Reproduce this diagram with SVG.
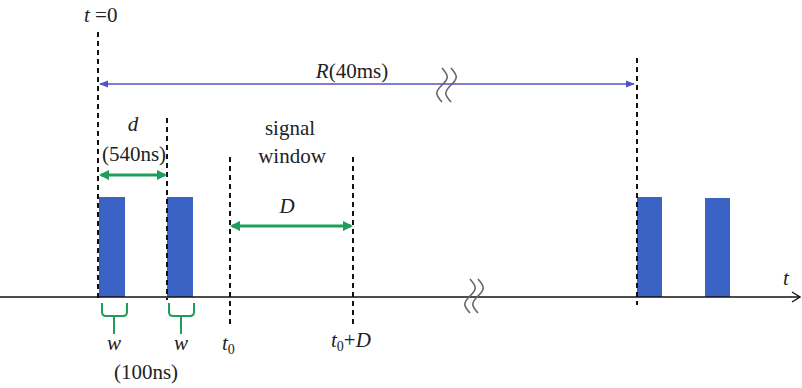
<svg xmlns="http://www.w3.org/2000/svg" width="802" height="388" viewBox="0 0 802 388">
<style>
.t{font-family:'Liberation Serif','Times New Roman',Times,'Nimbus Roman','Nimbus Roman No9 L',FreeSerif,'Noto Serif','DejaVu Serif',serif;fill:#222;font-size:21px}
.it{font-style:italic}
.dash{stroke:#111;stroke-width:2;stroke-dasharray:5 4;fill:none}
.pulse{fill:#3b63c6}
.green{stroke:#1d9e5c;stroke-width:3;fill:none}
.brace{stroke:#1d9e5c;stroke-width:2;fill:none}
.brk{stroke:#666;stroke-width:1.6;fill:none}
</style>
<defs>
<marker id="ga" viewBox="0 0 10 10" refX="8" refY="5" markerWidth="3.5" markerHeight="3.5" orient="auto-start-reverse">
<path d="M0,0 L10,5 L0,10 z" fill="#1d9e5c"/>
</marker>
<marker id="ba" viewBox="0 0 10 10" refX="9" refY="5" markerWidth="7" markerHeight="7" orient="auto-start-reverse">
<path d="M0,1 L10,5 L0,9 z" fill="#5252c8"/>
</marker>
</defs>

<g id="pulses">
<rect class="pulse" x="99" y="197" width="26" height="100"/>
<rect class="pulse" x="167" y="197" width="26" height="100"/>
<rect class="pulse" x="637" y="197" width="25" height="100"/>
<rect class="pulse" x="705" y="198" width="25" height="99"/>
</g>

<g id="guides">
<line class="dash" x1="98" y1="32" x2="98" y2="300"/>
<line class="dash" x1="167" y1="118" x2="167" y2="300"/>
<line class="dash" x1="230" y1="157" x2="230" y2="324"/>
<line class="dash" x1="353" y1="157" x2="353" y2="324"/>
<line class="dash" x1="637" y1="58" x2="637" y2="305"/>
</g>

<g id="axis">
<line x1="0" y1="297" x2="800" y2="297" stroke="#111" stroke-width="1.6"/>
<path d="M792,292 L800,297 L792,302" stroke="#111" stroke-width="1.4" fill="none"/>
<path class="brk" d="M470,279 c7,8 7,10 0,17 c-7,7 -7,9 0,17"/>
<path class="brk" d="M478,279 c7,8 7,10 0,17 c-7,7 -7,9 0,17"/>
<text class="t it" x="783" y="285" font-size="20">t</text>
</g>

<g id="connectors">
<line x1="100" y1="84" x2="634" y2="84" stroke="#5252c8" stroke-width="1.3" marker-start="url(#ba)" marker-end="url(#ba)"/>
<path class="brk" d="M442,68 c7,8 7,10 0,17 c-7,7 -7,9 0,17"/>
<path class="brk" d="M451,68 c7,8 7,10 0,17 c-7,7 -7,9 0,17"/>
<line class="green" x1="101" y1="175" x2="165" y2="175" marker-start="url(#ga)" marker-end="url(#ga)"/>
<line class="green" x1="232" y1="226" x2="351" y2="226" marker-start="url(#ga)" marker-end="url(#ga)"/>
<path class="brace" d="M102,303 V312 Q102,316 106,316 H123 Q127,316 127,312 V303 M114,316 V334"/>
<path class="brace" d="M169,303 V312 Q169,316 173,316 H190 Q194,316 194,312 V303 M181,316 V334"/>
</g>

<g id="labels">
<text class="t" x="84" y="22"><tspan class="it">t</tspan> =0</text>
<text class="t" x="352" y="78" text-anchor="middle"><tspan class="it">R</tspan>(40ms)</text>
<text class="t it" x="133" y="131" text-anchor="middle">d</text>
<text class="t" x="134" y="161" text-anchor="middle">(540ns)</text>
<text class="t" x="290" y="135" text-anchor="middle">signal</text>
<text class="t" x="292" y="163" text-anchor="middle">window</text>
<text class="t it" x="287" y="213" text-anchor="middle">D</text>
<text class="t it" x="114" y="350" text-anchor="middle">w</text>
<text class="t it" x="181" y="350" text-anchor="middle">w</text>
<text class="t" x="146" y="379" text-anchor="middle">(100ns)</text>
<text class="t" x="222" y="350"><tspan class="it">t</tspan><tspan font-size="14" dy="4">0</tspan></text>
<text class="t" x="331" y="347"><tspan class="it">t</tspan><tspan font-size="14" dy="4">0</tspan><tspan dy="-4">+</tspan><tspan class="it">D</tspan></text>
</g>
</svg>
